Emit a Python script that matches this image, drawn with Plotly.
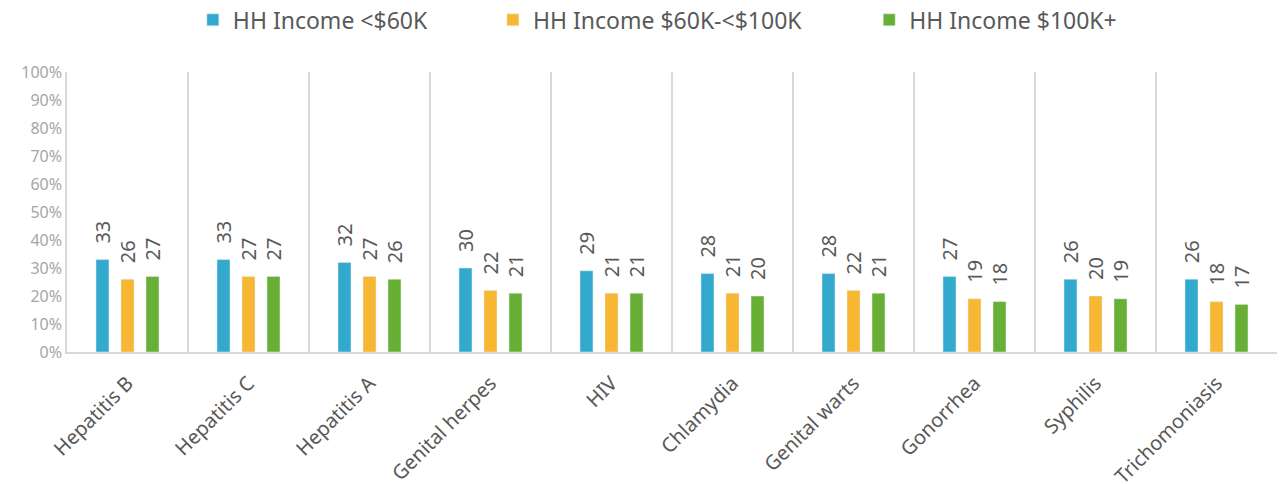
import plotly.graph_objects as go

categories = [
    "Hepatitis B", "Hepatitis C", "Hepatitis A", "Genital herpes", "HIV",
    "Chlamydia", "Genital warts", "Gonorrhea", "Syphilis", "Trichomoniasis",
]
income_low = [33, 33, 32, 30, 29, 28, 28, 27, 26, 26]
income_mid = [26, 27, 27, 22, 21, 21, 22, 19, 20, 18]
income_high = [27, 27, 26, 21, 21, 20, 21, 18, 19, 17]

series = [
    ("HH Income <$60K", income_low, "#33AACD"),
    ("HH Income $60K-<$100K", income_mid, "#F7B733"),
    ("HH Income $100K+", income_high, "#67B035"),
]

FONT = "Noto Sans, Open Sans, sans-serif"
LABEL_COLOR = "#595959"

# one legend per series so each entry sits where the original puts it
legend_x = [0.104, 0.352, 0.663]
legend_names = ["legend", "legend2", "legend3"]
bar_offset = [-25, 0, 25]  # px offset of each bar inside its group

fig = go.Figure()

for i, (name, values, color) in enumerate(series):
    fig.add_trace(
        go.Bar(
            x=categories,
            y=values,
            name=name,
            marker_color=color,
            legend=legend_names[i],
        )
    )
    # rotated value labels above the bars
    for cat, v in zip(categories, values):
        fig.add_annotation(
            x=cat,
            y=v,
            text=str(v),
            textangle=-90,
            showarrow=False,
            xanchor="center",
            yanchor="bottom",
            xshift=bar_offset[i],
            yshift=14,
            font=dict(family=FONT, size=20, color=LABEL_COLOR),
        )

legend_style = dict(
    orientation="h",
    xanchor="left",
    y=0.975,
    yref="container",
    yanchor="middle",
    font=dict(family=FONT, size=23, color=LABEL_COLOR),
    itemwidth=30,
    bgcolor="rgba(0,0,0,0)",
)

# page body has an 8px margin, so the figure is sized to fit inside it
fig.update_layout(
    barmode="group",
    bargap=0.38,
    bargroupgap=0.48,
    width=1279,
    height=476,
    margin=dict(l=59, r=10, t=64, b=132, autoexpand=False),
    plot_bgcolor="white",
    paper_bgcolor="white",
    font=dict(family=FONT, color=LABEL_COLOR),
    showlegend=True,
    legend=dict(x=legend_x[0], **legend_style),
    legend2=dict(x=legend_x[1], **legend_style),
    legend3=dict(x=legend_x[2], **legend_style),
)

fig.update_xaxes(
    type="category",
    automargin=False,
    tickson="boundaries",
    showgrid=True,
    gridcolor="#D9D9D9",
    gridwidth=1.5,
    showline=True,
    linecolor="#D9D9D9",
    linewidth=1.5,
    ticks="",
    tickangle=-45,
    ticklabelstandoff=10,
    tickfont=dict(family=FONT, size=20, color=LABEL_COLOR),
)

fig.update_yaxes(
    automargin=False,
    range=[0, 100],
    dtick=10,
    ticksuffix="%",
    showgrid=False,
    zeroline=False,
    showline=True,
    linecolor="#D9D9D9",
    linewidth=1.5,
    ticks="",
    tickfont=dict(family=FONT, size=16, color="#A6A6A6"),
)

fig.write_html("out.html")
